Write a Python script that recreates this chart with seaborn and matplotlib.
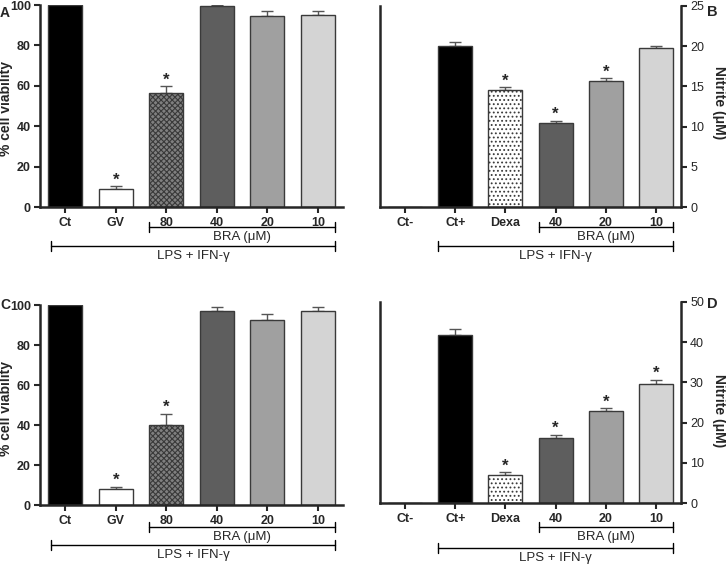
import matplotlib
matplotlib.use("Agg")
import matplotlib.pyplot as plt
import matplotlib.transforms as mtransforms
import numpy as np
import pandas as pd
import seaborn as sns

sns.set_style("ticks")
plt.rcParams['font.family'] = ['Liberation Sans', 'DejaVu Sans']
plt.rcParams['hatch.linewidth'] = 0.8

# 데이터
via_labels = ["Ct", "GV", "80", "40", "20", "10"]
via_a = [100, 9.1, 56.2, 99.7, 94.5, 94.9]
via_a_err = [0, 1.1, 3.6, 0.2, 2.7, 2.3]
via_a_star = [False, True, True, False, False, False]

via_c = [100, 8.0, 39.9, 97.2, 92.7, 97.0]
via_c_err = [0, 1.1, 5.8, 2.0, 2.6, 2.0]
via_c_star = [False, True, True, False, False, False]

nit_labels = ["Ct-", "Ct+", "Dexa", "40", "20", "10"]
nit_b = [0, 20.0, 14.5, 10.4, 15.7, 19.8]
nit_b_err = [0, 0.5, 0.4, 0.35, 0.3, 0.25]
nit_b_star = [False, False, True, True, True, False]

nit_d = [0, 41.9, 7.0, 16.1, 23.0, 29.6]
nit_d_err = [0, 1.3, 0.7, 0.9, 0.6, 1.1]
nit_d_star = [False, False, True, True, True, True]

via_colors = ["#000000", "#ffffff", "#808080", "#5e5e5e", "#a0a0a0", "#d4d4d4"]
nit_colors = ["#ffffff", "#000000", "#ffffff", "#5e5e5e", "#a0a0a0", "#d4d4d4"]

W, H = 726, 565
fig = plt.figure(figsize=(W / 100, H / 100), dpi=100)


def px_axes(left, right, top, bottom):
    return fig.add_axes([left / W, 1 - bottom / H, (right - left) / W, (bottom - top) / H])


def bar_panel(ax, labels, vals, errs, stars, colors, hatches, ymax, step, right_axis):
    df = pd.DataFrame({"grupo": labels, "valor": vals})
    sns.barplot(data=df, x="grupo", y="valor", hue="grupo", palette=colors,
                order=labels, hue_order=labels, legend=False, width=0.68,
                edgecolor="#3a3a3a", linewidth=1, ax=ax, errorbar=None, zorder=2)
    for p, h in zip(ax.patches, hatches):
        if h:
            p.set_hatch(h)
    x = np.arange(len(labels))
    v = np.array(vals)
    e = np.array(errs)
    mask = e > 0
    ax.errorbar(x[mask], v[mask], yerr=[np.zeros(mask.sum()), e[mask]], fmt="none",
                ecolor="#555555", elinewidth=1, capsize=4.5, capthick=1, zorder=1)
    for xi, vi, ei, s in zip(x, v, e, stars):
        if s:
            ax.annotate("*", (xi, vi + ei), xytext=(0, -1), textcoords="offset points",
                        ha="center", va="bottom", fontsize=12, fontweight="bold")
    ax.set_xlim(-0.5, 5.5)
    ax.set_ylim(0, ymax)
    ax.set_yticks(np.arange(0, ymax + 0.1, step))
    ax.set_xlabel("")
    ax.tick_params(axis="both", labelsize=9, width=1.5, length=4, direction="out")
    ax.tick_params(axis="y", pad=2.5)
    for lab in ax.get_xticklabels() + ax.get_yticklabels():
        lab.set_fontweight("bold")
    for sp in ax.spines.values():
        sp.set_linewidth(1.8)
    ax.spines["top"].set_visible(False)
    if right_axis:
        ax.yaxis.tick_right()
        ax.yaxis.set_label_position("right")
        ax.spines["left"].set_visible(True)
        ax.spines["right"].set_visible(True)
    else:
        ax.spines["right"].set_visible(False)


def bracket(ax, x0, x1, y, text):
    tr = mtransforms.blended_transform_factory(ax.transData, ax.transAxes)
    ax.plot([x0, x1], [y, y], color="black", lw=1, transform=tr, clip_on=False)
    for xx in (x0, x1):
        ax.plot([xx, xx], [y - 0.025, y + 0.025], color="black", lw=1, transform=tr, clip_on=False)
    ax.text((x0 + x1) / 2, y - 0.02, text, transform=tr, ha="center", va="top", fontsize=9.5)


# A
ax_a = px_axes(40, 343, 5, 207)
bar_panel(ax_a, via_labels, via_a, via_a_err, via_a_star, via_colors,
          [None, None, "xxxxxx", None, None, None], 100, 20, False)
ax_a.set_ylabel("% cell viability", fontsize=10, fontweight="bold")
ax_a.yaxis.set_label_coords(-0.088, 0.49)
bracket(ax_a, 1.66, 5.34, -0.10, "BRA (\u03bcM)")
bracket(ax_a, -0.28, 5.34, -0.195, "LPS + IFN-\u03b3")
fig.text(0 / W, 1 - 13 / H, "A", fontsize=10, fontweight="bold", va="center")

# B
ax_b = px_axes(380, 681, 6, 207)
bar_panel(ax_b, nit_labels, nit_b, nit_b_err, nit_b_star, nit_colors,
          [None, None, "....", None, None, None], 25, 5, True)
ax_b.set_ylabel("Nitrite (\u03bcM)", fontsize=10, fontweight="bold", rotation=270)
ax_b.yaxis.set_label_coords(1.148, 0.52)
bracket(ax_b, 2.66, 5.34, -0.10, "BRA (\u03bcM)")
bracket(ax_b, 0.66, 5.34, -0.195, "LPS + IFN-\u03b3")
fig.text(707 / W, 1 - 12 / H, "B", fontsize=10.5, fontweight="bold", va="center")

# C
ax_c = px_axes(40, 343, 305, 505)
bar_panel(ax_c, via_labels, via_c, via_c_err, via_c_star, via_colors,
          [None, None, "xxxxxx", None, None, None], 100, 20, False)
ax_c.set_ylabel("% cell viability", fontsize=10, fontweight="bold")
ax_c.yaxis.set_label_coords(-0.088, 0.48)
bracket(ax_c, 1.66, 5.34, -0.11, "BRA (\u03bcM)")
bracket(ax_c, -0.28, 5.34, -0.20, "LPS + IFN-\u03b3")
fig.text(0 / W, 1 - 305 / H, "C", fontsize=10, fontweight="bold", va="center")

# D
ax_d = px_axes(380, 681, 302, 503)
bar_panel(ax_d, nit_labels, nit_d, nit_d_err, nit_d_star, nit_colors,
          [None, None, "....", None, None, None], 50, 10, True)
ax_d.set_ylabel("Nitrite (\u03bcM)", fontsize=10, fontweight="bold", rotation=270)
ax_d.yaxis.set_label_coords(1.148, 0.46)
bracket(ax_d, 2.66, 5.34, -0.12, "BRA (\u03bcM)")
bracket(ax_d, 0.66, 5.34, -0.225, "LPS + IFN-\u03b3")
fig.text(707 / W, 1 - 304 / H, "D", fontsize=10.5, fontweight="bold", va="center")

fig.savefig("out.png", dpi=100)
